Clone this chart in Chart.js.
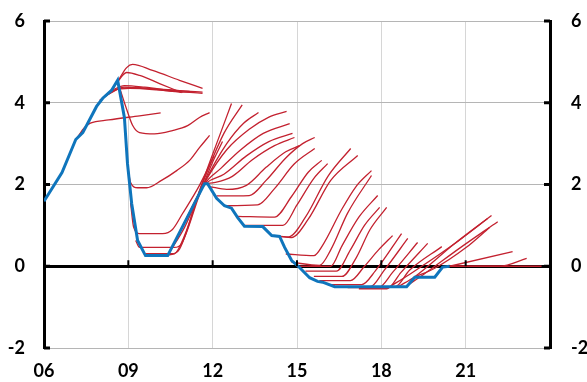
<!DOCTYPE html>
<html>
<head>
<meta charset="utf-8">
<script src="https://cdn.jsdelivr.net/npm/chart.js@4.4.1/dist/chart.umd.min.js"></script>
<style>
  html, body { margin: 0; padding: 0; background: #fff; }
  #wrap { width: 587px; height: 382px; }
</style>
</head>
<body>
<div id="wrap"><canvas id="chart" width="587" height="382"></canvas></div>
<script>
// policy rate (blue), decimal years
const policyYears = [2006.00, 2006.64, 2007.13, 2007.38, 2007.87, 2008.09, 2008.40, 2008.62, 2008.86, 2008.97,
  2009.12, 2009.33, 2009.61, 2010.40, 2011.71, 2011.82, 2012.14, 2012.42, 2012.67, 2012.89, 2013.13, 2013.78,
  2014.10, 2014.38, 2014.56, 2014.81, 2015.09, 2015.45, 2015.73, 2015.91, 2016.34, 2018.90, 2019.19, 2019.90,
  2020.18, 2020.43];
const policyRate = [1.59, 2.29, 3.10, 3.27, 3.91, 4.11, 4.30, 4.55, 3.64, 2.51,
  1.53, 0.63, 0.26, 0.26, 2.02, 2.02, 1.66, 1.48, 1.42, 1.19, 0.98, 0.97,
  0.75, 0.73, 0.46, 0.14, -0.03, -0.28, -0.37, -0.39, -0.50, -0.50, -0.27, -0.27,
  -0.02, 0.00];

// forecast paths (red): [year, rate] pairs
const forecastPaths = [
  [[2007.16,3.12],[2007.45,3.40],[2007.65,3.50],[2008.3,3.58],[2009.4,3.68],[2010.15,3.75]],
  [[2007.98,4.06],[2008.51,4.30],[2009.04,4.35],[2010.11,4.33],[2011.18,4.28]],
  [[2008.15,4.15],[2008.69,4.35],[2009.40,4.37],[2010.29,4.30],[2011.64,4.23]],
  [[2008.26,4.20],[2008.86,4.38],[2009.75,4.33],[2011.64,4.26]],
  [[2008.40,4.30],[2008.86,4.42],[2009.58,4.38],[2010.46,4.30],[2010.93,4.26]],
  [[2008.55,4.45],[2008.94,4.74],[2009.40,4.67],[2010.11,4.47],[2010.89,4.25]],
  [[2008.62,4.52],[2008.94,4.86],[2009.15,4.94],[2009.86,4.79],[2010.82,4.55],[2011.64,4.35]],
  [[2008.72,4.30],[2008.97,3.78],[2009.15,3.45],[2009.40,3.27],[2009.93,3.24],[2010.57,3.32],[2011.11,3.44],[2011.53,3.64],[2011.89,3.76]],
  [[2008.94,2.65],[2009.08,2.05],[2009.33,1.92],[2009.65,1.92],[2010.18,2.10],[2010.72,2.34],[2011.18,2.59],[2011.53,2.90],[2011.89,3.20]],
  [[2009.08,1.55],[2009.19,0.95],[2009.40,0.80],[2010.22,0.80],[2010.57,0.90],[2010.93,1.29],[2011.53,1.98],[2012.05,2.70]],
  [[2009.26,0.63],[2009.40,0.46],[2010.64,0.46],[2010.89,0.55],[2011.53,1.75],[2012.00,2.55],[2012.35,3.05]],
  [[2009.61,0.31],[2010.54,0.31],[2010.82,0.42],[2011.53,1.85],[2012.14,3.00],[2012.67,3.98]],
  [[2010.11,0.26],[2010.64,0.30],[2011.00,0.75],[2011.60,1.95],[2012.40,3.25],[2013.05,3.95]],
  [[2010.46,0.34],[2011.00,0.95],[2011.71,2.05],[2012.50,3.00],[2013.10,3.50],[2013.63,3.76]],
  [[2010.82,0.82],[2011.30,1.50],[2011.80,2.15],[2012.50,2.85],[2013.30,3.35],[2014.00,3.65],[2014.63,3.79]],
  [[2011.18,1.24],[2011.70,2.00],[2012.30,2.40],[2013.00,2.85],[2013.80,3.25],[2014.74,3.49]],
  [[2011.50,1.80],[2011.80,2.05],[2012.40,2.25],[2013.20,2.70],[2014.00,3.05],[2014.84,3.25]],
  [[2011.71,2.02],[2012.10,2.05],[2012.70,2.20],[2013.40,2.60],[2014.20,2.95],[2014.91,3.15]],
  [[2011.89,1.95],[2012.50,1.88],[2013.20,1.98],[2013.90,2.42],[2014.60,2.80],[2015.09,2.95]],
  [[2012.14,1.72],[2013.30,1.73],[2013.90,2.10],[2014.60,2.65],[2015.20,3.00],[2015.63,3.15]],
  [[2012.42,1.48],[2013.60,1.50],[2014.20,1.90],[2014.90,2.50],[2015.63,2.88]],
  [[2012.89,1.22],[2014.20,1.20],[2014.80,1.70],[2015.40,2.30],[2015.88,2.59]],
  [[2013.13,1.00],[2014.50,1.00],[2015.00,1.50],[2015.60,2.15],[2016.09,2.51]],
  [[2014.10,0.75],[2014.70,0.72],[2015.30,1.20],[2016.10,2.20],[2016.91,2.88]],
  [[2014.38,0.73],[2014.80,0.70],[2015.40,1.15],[2016.20,2.10],[2017.16,2.71]],
  [[2014.60,0.30],[2015.60,0.26],[2015.90,0.50],[2016.60,1.40],[2017.10,1.95],[2017.65,2.34]],
  [[2014.80,0.10],[2015.80,0.02],[2016.20,0.40],[2016.80,1.30],[2017.65,2.22]],
  [[2015.09,0.00],[2016.20,0.00],[2016.60,0.50],[2017.20,1.20],[2017.87,1.73]],
  [[2015.30,-0.12],[2016.40,-0.12],[2016.90,0.40],[2017.40,1.00],[2017.94,1.44]],
  [[2015.60,-0.25],[2016.60,-0.25],[2017.10,0.20],[2017.60,0.90],[2018.19,1.44]],
  [[2015.80,-0.35],[2016.90,-0.35],[2017.40,0.00],[2017.90,0.40],[2018.40,0.75]],
  [[2016.10,-0.45],[2017.30,-0.45],[2017.80,-0.10],[2018.72,0.80]],
  [[2016.40,-0.50],[2017.60,-0.50],[2018.10,-0.10],[2018.94,0.68]],
  [[2016.80,-0.52],[2017.90,-0.52],[2018.40,-0.15],[2019.29,0.58]],
  [[2017.20,-0.55],[2018.20,-0.55],[2018.70,-0.15],[2019.65,0.56]],
  [[2017.60,-0.52],[2018.50,-0.50],[2019.00,-0.10],[2020.15,0.48]],
  [[2018.30,-0.50],[2019.00,-0.20],[2020.50,0.50],[2021.78,1.17]],
  [[2018.60,-0.50],[2019.20,-0.25],[2020.60,0.55],[2021.92,1.24]],
  [[2018.90,-0.48],[2019.50,-0.20],[2020.80,0.45],[2022.14,1.09]],
  [[2019.20,-0.26],[2019.90,-0.05],[2021.00,0.45],[2021.85,0.95]],
  [[2020.43,0.00],[2022.67,0.36]],
  [[2020.43,0.00],[2022.21,0.00],[2023.17,0.19]],
  [[2020.43,0.00],[2023.70,0.00]],
];

const xTickYears = [2006, 2009, 2012, 2015, 2018, 2021];
const yTicks = [-2, 0, 2, 4, 6];

const RED = '#c3212f';
const BLUE = '#0f75bc';
const FONT = { family: 'Lato, "Liberation Sans", sans-serif', size: 18, weight: 'bold' };

const datasets = forecastPaths.map(path => ({
  data: path.map(([x, y]) => ({ x, y })),
  borderColor: RED,
  borderWidth: 1.3,
  pointRadius: 0,
  cubicInterpolationMode: 'monotone',
  order: 1,
}));
datasets.push({
  data: policyYears.map((x, i) => ({ x, y: policyRate[i] })),
  borderColor: BLUE,
  borderWidth: 3,
  pointRadius: 0,
  tension: 0,
  order: 0,
});

// inner tick marks on both y axes and on the zero line
const innerTicks = {
  id: 'innerTicks',
  afterDatasetsDraw(chart) {
    const { ctx, chartArea: a, scales: { x, y } } = chart;
    ctx.save();
    ctx.strokeStyle = '#000';
    ctx.lineWidth = 3;
    y.ticks.forEach(t => {
      const py = y.getPixelForValue(t.value);
      ctx.beginPath();
      ctx.moveTo(a.left, py); ctx.lineTo(a.left + 6, py);
      ctx.moveTo(a.right - 6, py); ctx.lineTo(a.right, py);
      ctx.stroke();
    });
    const y0 = y.getPixelForValue(0);
    ctx.lineWidth = 2;
    x.ticks.forEach(t => {
      if (t.value <= x.min || t.value >= x.max) return;
      const px = x.getPixelForValue(t.value);
      ctx.beginPath(); ctx.moveTo(px, y0); ctx.lineTo(px, y0 - 6); ctx.stroke();
    });
    ctx.restore();
  }
};

const yAxis = (position, width, padding) => ({
  position,
  min: -2, max: 6,
  afterBuildTicks: axis => { axis.ticks = yTicks.map(v => ({ value: v })); },
  afterFit: axis => { axis.width = width; axis.paddingTop = 0; axis.paddingBottom = 0; },
  ticks: { font: FONT, color: '#000', padding },
  border: { display: true, color: '#000', width: 3 },
  grid: {
    display: position === 'left',
    drawTicks: false,
    color: c => c.tick && c.tick.value === 0 ? '#000' : '#b5b5b5',
    lineWidth: c => c.tick && c.tick.value === 0 ? 3 : 1,
  },
});

new Chart(document.getElementById('chart'), {
  type: 'line',
  data: { datasets },
  options: {
    responsive: false,
    animation: false,
    layout: { padding: { top: 21, left: 0, right: 0, bottom: 0 } },
    plugins: { legend: { display: false }, tooltip: { enabled: false } },
    scales: {
      x: {
        type: 'linear',
        min: 2006, max: 2024,
        afterBuildTicks: axis => { axis.ticks = xTickYears.concat([2024]).map(v => ({ value: v })); },
        afterFit: axis => { axis.height = 34; axis.paddingLeft = 0; axis.paddingRight = 0; },
        ticks: {
          font: FONT, color: '#000', padding: 12, maxRotation: 0, autoSkip: false,
          callback: v => xTickYears.includes(v) ? String(v).slice(2) : '',
        },
        border: { display: false },
        grid: { drawTicks: false, color: '#d6d6d6', lineWidth: 1 },
      },
      y: yAxis('left', 44, 19),
      y2: yAxis('right', 37, 21),
    },
  },
  plugins: [innerTicks],
});
</script>
</body>
</html>
